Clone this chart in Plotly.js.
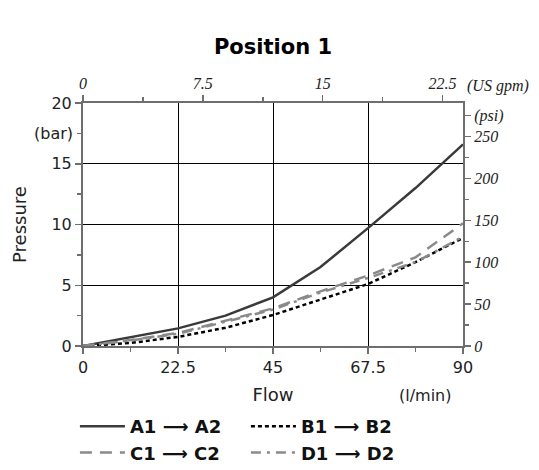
<!DOCTYPE html>
<html>
<head>
<meta charset="utf-8">
<script src="https://cdn.plot.ly/plotly-3.0.1.min.js"></script>
<style>html,body{margin:0;padding:0;background:#fff;}</style>
</head>
<body>
<div id="chart" style="width:539px;height:470px;"></div>
<script>
// Data (flow in l/min, pressure in bar)
const flow = [0, 11.25, 22.5, 33.75, 45, 56.25, 67.5, 78.75, 90];
const seriesNames = ['A1 ⟶ A2', 'B1 ⟶ B2', 'C1 ⟶ C2', 'D1 ⟶ D2'];
const pA = [0, 0.7, 1.45, 2.5, 4.0, 6.5, 9.7, 13.0, 16.6];
const pB = [0, 0.25, 0.75, 1.5, 2.55, 3.85, 5.1, 6.9, 8.9];
const pC = [0, 0.5, 1.07, 2.1, 3.1, 4.5, 5.8, 7.3, 10.1];
const pD = [0, 0.45, 1.0, 2.0, 3.0, 4.4, 5.6, 6.9, 9.0];
const flowTicks = [0, 22.5, 45, 67.5, 90];
const barTicks = [0, 5, 10, 15, 20];
const gpmTicks = [0, 7.5, 15, 22.5];
const psiTicks = [0, 50, 100, 150, 200, 250, 275];
const psiText = ['0', '50', '100', '150', '200', '250', '(psi)'];

const LPM_PER_GPM = 3.78541;
const PSI_PER_BAR = 14.5038;
const flowMax = 90, barMax = 20;

const sans = 'DejaVu Sans, Verdana, sans-serif';
const serif = 'Liberation Serif, Times New Roman, serif';
const axisGray = '#6e6e6e';

const traces = [
  {x: flow, y: pA, name: seriesNames[0], mode: 'lines', line: {color: '#3a3a3a', width: 2.5, dash: 'solid'}},
  {x: flow, y: pB, name: seriesNames[1], mode: 'lines', line: {color: '#000000', width: 2.5, dash: '4px,3px'}},
  {x: flow, y: pC, name: seriesNames[2], mode: 'lines', line: {color: '#8a8a8a', width: 2.5, dash: '12px,8px'}},
  {x: flow, y: pD, name: seriesNames[3], mode: 'lines', line: {color: '#8a8a8a', width: 2.5, dash: '10px,6px,3px,6px'}},
  // invisible trace that carries the secondary (US gpm / psi) axes
  {x: flow.map(f => f / LPM_PER_GPM), y: pA.map(p => p * PSI_PER_BAR), xaxis: 'x2', yaxis: 'y2',
   mode: 'lines', line: {width: 0, color: 'rgba(0,0,0,0)'}, opacity: 0, showlegend: false, hoverinfo: 'skip'}
];

const layout = {
  width: 539, height: 470,
  margin: {l: 83, r: 76, t: 103, b: 124, autoexpand: false},
  paper_bgcolor: '#fff', plot_bgcolor: '#fff',
  showlegend: true,
  title: {text: '<b>Position 1</b>', font: {family: sans, size: 21, color: '#000'}, x: 0.5, xref: 'paper', y: 0.9, yref: 'container', yanchor: 'middle'},
  xaxis: {
    range: [0, flowMax], tickvals: flowTicks, ticktext: flowTicks.map(String),
    showgrid: true, gridcolor: '#000', gridwidth: 1, zeroline: false,
    showline: true, linecolor: axisGray, linewidth: 2,
    ticks: 'outside', ticklen: 6, tickcolor: axisGray, tickwidth: 1.5,
    minor: {dtick: 11.25, tick0: 0, ticks: 'outside', ticklen: 4, tickcolor: axisGray, showgrid: false},
    tickfont: {family: sans, size: 16, color: '#222'},
    title: {text: 'Flow', font: {family: sans, size: 18, color: '#222'}, standoff: 12}
  },
  yaxis: {
    range: [0, barMax], tickvals: barTicks, ticktext: barTicks.map(String),
    showgrid: true, gridcolor: '#000', gridwidth: 1, zeroline: false,
    showline: true, linecolor: axisGray, linewidth: 2,
    ticks: 'outside', ticklen: 6, tickcolor: axisGray, tickwidth: 1.5,
    minor: {dtick: 2.5, tick0: 0, ticks: 'outside', ticklen: 4, tickcolor: axisGray, showgrid: false},
    tickfont: {family: sans, size: 16, color: '#222'},
    title: {text: 'Pressure', font: {family: sans, size: 18, color: '#222'}, standoff: 20}
  },
  xaxis2: {
    overlaying: 'x', side: 'top', anchor: 'y',
    range: [0, flowMax / LPM_PER_GPM], tickvals: gpmTicks, ticktext: gpmTicks.map(String),
    showgrid: false, zeroline: false,
    showline: true, linecolor: axisGray, linewidth: 2,
    ticks: 'outside', ticklen: 6, tickcolor: axisGray, tickwidth: 1.5,
    minor: {dtick: 3.75, tick0: 0, ticks: 'outside', ticklen: 4, tickcolor: axisGray, showgrid: false},
    tickfont: {family: serif, size: 16, color: '#222', style: 'italic'}
  },
  yaxis2: {
    overlaying: 'y', side: 'right', anchor: 'x',
    range: [0, barMax * PSI_PER_BAR], tickvals: psiTicks, ticktext: psiText,
    showgrid: false, zeroline: false,
    showline: true, linecolor: axisGray, linewidth: 2,
    ticks: 'outside', ticklen: 6, tickcolor: axisGray, tickwidth: 1.5,
    minor: {dtick: 25, tick0: 0, ticks: 'outside', ticklen: 4, tickcolor: axisGray, showgrid: false},
    tickfont: {family: serif, size: 16, color: '#222', style: 'italic'}
  },
  annotations: [
    {text: '(bar)', xref: 'paper', yref: 'y', x: 0, y: 17.5, xanchor: 'right', xshift: -8, showarrow: false, font: {family: sans, size: 16, color: '#222'}},
    {text: '(US gpm)', xref: 'paper', yref: 'paper', x: 1, y: 1, xanchor: 'left', yanchor: 'bottom', xshift: 2, yshift: 6, showarrow: false, font: {family: serif, size: 16, color: '#222', style: 'italic'}},
    {text: '(l/min)', xref: 'paper', yref: 'paper', x: 0.9, y: 0, xanchor: 'center', yanchor: 'top', yshift: -38, showarrow: false, font: {family: sans, size: 16, color: '#222'}}
  ],
  legend: {
    orientation: 'h', x: 0.139, xref: 'container', xanchor: 'left', y: 0.132, yref: 'container', yanchor: 'top',
    itemwidth: 45, entrywidth: 111, entrywidthmode: 'pixels',
    font: {family: sans, size: 18, color: '#111', weight: 'bold'},
    bgcolor: 'rgba(0,0,0,0)', tracegroupgap: 0
  }
};

Plotly.newPlot('chart', traces, layout, {displayModeBar: false, staticPlot: true});
</script>
</body>
</html>
